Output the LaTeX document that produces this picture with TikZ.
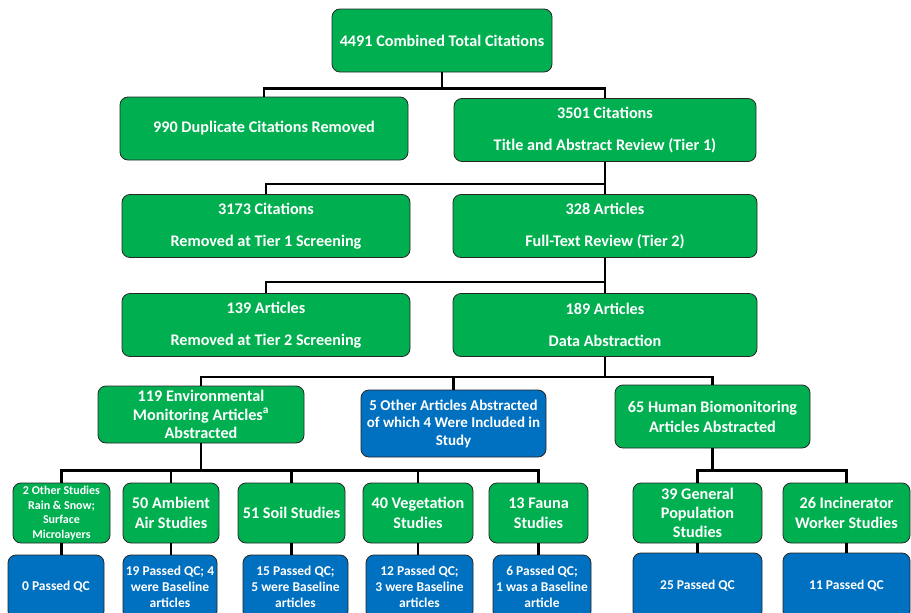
\documentclass[tikz,border=0pt]{standalone}
\usepackage{fontspec}
\setmainfont{Carlito}
\usetikzlibrary{positioning}
\definecolor{boxgreen}{RGB}{0,176,80}
\definecolor{boxblue}{RGB}{0,112,192}

\begin{document}
\begin{tikzpicture}[x=1pt, y=-1pt,
    box/.style={rectangle, rounded corners=8pt, draw=black!85, line width=0.8pt,
                align=center, text=white, inner sep=1pt,
                font=\bfseries\fontsize{16.2}{19.5}\selectfont},
    greenbox/.style={box, fill=boxgreen},
    bluebox/.style={box, fill=boxblue},
    small/.style={font=\bfseries\fontsize{12}{14.5}\selectfont},
    big/.style={font=\bfseries\fontsize{16.2}{20}\selectfont},
    qc/.style={font=\bfseries\fontsize{13.5}{16}\selectfont},
    link/.style={line width=2.6pt, black}]

    \useasboundingbox (0,0) rectangle (911,613);
    \clip (0,0) rectangle (911,613);

    \node[greenbox, minimum width=220, minimum height=63] (total) at (442,40.5) {4491 Combined Total Citations};
    \node[greenbox, minimum width=288, minimum height=63] (dup) at (264,128.5) {990 Duplicate Citations Removed};
    \node[greenbox, minimum width=302, minimum height=63] (tier1) at (605,130) {3501 Citations\\[12.5pt]Title and Abstract Review (Tier 1)};
    \node[greenbox, minimum width=288, minimum height=63] (out1) at (266,226) {3173 Citations\\[12.5pt]Removed at Tier 1 Screening};
    \node[greenbox, minimum width=304, minimum height=63] (tier2) at (605,226) {328 Articles\\[12.5pt]Full-Text Review (Tier 2)};
    \node[greenbox, minimum width=288, minimum height=63] (out2) at (266,325) {139 Articles\\[12.5pt]Removed at Tier 2 Screening};
    \node[greenbox, minimum width=304, minimum height=63] (abstr) at (605,325) {189 Articles\\[12.5pt]Data Abstraction};

    \node[greenbox, minimum width=206, minimum height=57, font=\bfseries\fontsize{16.2}{18.5}\selectfont] (env) at (201,414.5) {119 Environmental\\Monitoring Articles\textsuperscript{a}\\Abstracted};
    \node[bluebox, minimum width=185, minimum height=67, font=\bfseries\fontsize{15}{17.5}\selectfont] (other) at (453.5,423.5) {5 Other Articles Abstracted\\of which 4 Were Included in\\Study};
    \node[greenbox, big, minimum width=195, minimum height=63] (human) at (712.5,416.5) {65 Human Biomonitoring\\Articles Abstracted};

    \node[greenbox, small, minimum width=97, minimum height=60] (rain) at (61.5,513) {2 Other Studies\\Rain \& Snow;\\Surface\\Microlayers};
    \node[greenbox, big, minimum width=96, minimum height=60] (air) at (171,513) {50 Ambient\\Air Studies};
    \node[greenbox, big, minimum width=107, minimum height=60] (soil) at (291.5,513) {51 Soil Studies};
    \node[greenbox, big, minimum width=110, minimum height=60] (veg) at (418,513) {40 Vegetation\\Studies};
    \node[greenbox, big, minimum width=99, minimum height=60] (fauna) at (538.5,513) {13 Fauna\\Studies};
    \node[greenbox, minimum width=129, minimum height=60, font=\bfseries\fontsize{16.2}{19}\selectfont] (genpop) at (697.5,513) {39 General\\Population\\Studies};
    \node[greenbox, big, minimum width=127, minimum height=60] (incin) at (846.5,513) {26 Incinerator\\Worker Studies};

    \node[bluebox, qc, minimum width=96, minimum height=64] (qcrain) at (56,587) {0 Passed QC};
    \node[bluebox, qc, minimum width=94, minimum height=64] (qcair) at (170,587) {19 Passed QC; 4\\were Baseline\\articles};
    \node[bluebox, qc, minimum width=105, minimum height=64] (qcsoil) at (295.5,587) {15 Passed QC;\\5 were Baseline\\articles};
    \node[bluebox, qc, minimum width=107, minimum height=64] (qcveg) at (419.5,587) {12 Passed QC;\\3 were Baseline\\articles};
    \node[bluebox, qc, minimum width=98, minimum height=64] (qcfauna) at (542,587) {6 Passed QC;\\1 was a Baseline\\article};
    \node[bluebox, qc, minimum width=129, minimum height=66] (qcgenpop) at (697.5,586) {25 Passed QC};
    \node[bluebox, qc, minimum width=127, minimum height=66] (qcincin) at (846.5,586) {11 Passed QC};

    \foreach \n in {dup,tier1}
        \draw[link] (total.south) -- ++(0,16) -| (\n.north);
    \foreach \n in {out1,tier2}
        \draw[link] (tier1.south) -- ++(0,22) -| (\n.north);
    \foreach \n in {out2,abstr}
        \draw[link] (tier2.south) -- ++(0,24) -| (\n.north);
    \foreach \n in {env,other,human}
        \draw[link] (abstr.south) -- ++(0,20) -| (\n.north);
    \foreach \n in {rain,air,soil,veg,fauna}
        \draw[link] (env.south) -- ++(0,27) -| (\n.north);
    \foreach \n in {genpop,incin}
        \draw[link] (human.south) -- ++(0,22) -| (\n.north);

    \foreach \a/\b in {rain/qcrain,air/qcair,soil/qcsoil,veg/qcveg,fauna/qcfauna,genpop/qcgenpop,incin/qcincin}
        \draw[link] (\a.south) -- (\a.south |- \b.north);
\end{tikzpicture}
\end{document}
